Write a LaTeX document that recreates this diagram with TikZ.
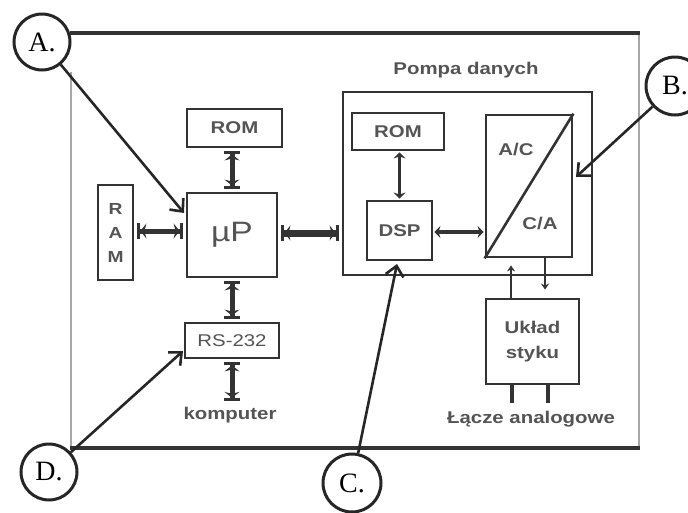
\documentclass[tikz,border=0pt]{standalone}
\usepackage{fontspec}
\setmainfont{Liberation Serif}
\newfontfamily\diagfont[FakeStretch=1.2]{Liberation Sans}
\usetikzlibrary{arrows.meta}
\definecolor{linec}{gray}{0.2}
\definecolor{textc}{gray}{0.33}
\definecolor{framec}{gray}{0.65}
\begin{document}
\begin{tikzpicture}[x=1pt,y=-1pt,
  box/.style={draw=linec, line width=2.8pt, inner sep=0pt, font=\diagfont\bfseries\fontsize{17}{25}\selectfont, text=textc, align=center},
  txt/.style={inner sep=0pt, font=\diagfont\bfseries\fontsize{17}{25}\selectfont, text=textc},
  lab/.style={circle, draw=black!85, fill=white, line width=3pt, inner sep=0pt, font=\fontsize{28}{30}\selectfont},
  ptr/.style={draw=black!85, line width=2.6pt, -{Straight Barb[length=10pt,width=18pt,line width=2.6pt]}},
  bus/.style={draw=linec, line width=5pt, shorten >=3pt, shorten <=3pt,
    {Bar[width=16pt,line width=3pt]Stealth[length=6pt,width=15pt]}-{Stealth[length=6pt,width=15pt]Bar[width=16pt,line width=3pt]}},
  bigbus/.style={bus, line width=7pt},
  thinbus/.style={draw=linec, line width=3.5pt, shorten >=1pt, shorten <=1pt,
    {Stealth[length=6pt,width=12pt]}-{Stealth[length=6pt,width=12pt]}},
  sig/.style={draw=linec, line width=2.4pt}
]
\useasboundingbox (0,0) rectangle (688,512);
% outer frame
\draw[framec, line width=2.2pt] (71,72) -- (71,448);
\draw[framec, line width=2.2pt] (639,33) -- (639,448);
\draw[black!80, line width=3.2pt] (70,33) -- (640,33);
\draw[black!80, line width=3.2pt] (70,448) -- (640,448);

% left part
\node[box, minimum width=95pt, minimum height=38pt] (rom1) at (234.5,128) {ROM};
\node[box, minimum width=90pt, minimum height=84pt, font=\diagfont\fontsize{28}{30}\selectfont] (up) at (232,235) {µP};
\node[box, minimum width=35pt, minimum height=95pt, font=\diagfont\bfseries\fontsize{16}{24}\selectfont] (ram) at (115.5,232.5) {R\\A\\M};
\node[box, minimum width=94pt, minimum height=35pt, font=\diagfont\fontsize{17}{25}\selectfont] (rs) at (232,340.5) {RS-232};
\node[txt] (komp) at (230,415) {komputer};

% pompa danych
\node[box, minimum width=249pt, minimum height=183pt] (pompa) at (467.5,183.5) {};
\node[txt] (pdl) at (466,70) {Pompa danych};
\node[box, minimum width=92pt, minimum height=37pt] (rom2) at (398,131.5) {ROM};
\node[box, minimum width=65pt, minimum height=59pt] (dsp) at (399.5,230.5) {DSP};
\node[box, minimum width=86pt, minimum height=142pt] (ac) at (529,186) {};
\draw[linec, line width=2.6pt] (ac.south west) -- (ac.north east);
\node[txt] (acl) at (516,150) {A/C};
\node[txt] (cal) at (540,224) {C/A};

\node[box, minimum width=93pt, minimum height=85pt] (uk) at (532.5,341.5) {Układ\\styku};
\node[txt] (lacze) at (531,419) {Łącze analogowe};

% buses
\draw[bus] (up.north |- rom1.south) -- (up.north);
\draw[bus] (ram.east |- 0,231) -- (up.west |- 0,231);
\draw[bigbus] (up.east |- 0,233) -- (pompa.west |- 0,233);
\draw[bus] (up.south) -- (rs.north -| up.south);
\draw[bus, shorten >=6pt] (rs.south -| up.south) -- (komp.north -| up.south);
\draw[thinbus] (rom2.south -| dsp.north) -- (dsp.north);
\draw[thinbus] (dsp.east |- 0,232) -- (ac.west |- 0,232);

% A/C <-> interface
\draw[sig, -{Stealth[length=6pt,width=8pt]}, shorten >=7pt] ([xshift=-21.5pt]uk.north) -- ([xshift=-21.5pt]uk.north |- ac.south);
\draw[sig, -{Stealth[length=6pt,width=8pt]}, shorten >=8pt] ([xshift=12.5pt]uk.north |- ac.south) -- ([xshift=12.5pt]uk.north);
\coordinate (l1) at (512,403);
\coordinate (l2) at (548,403);
\draw[linec, line width=3.5pt] (uk.south -| l1) -- (l1);
\draw[linec, line width=3.5pt] (uk.south -| l2) -- (l2);

% labels
\node[lab, minimum size=56pt] (cA) at (42,42) {A.};
\node[lab, minimum size=58pt] (cB) at (675,86) {B.};
\node[lab, minimum size=58pt] (cC) at (352,483) {C.};
\node[lab, minimum size=56pt] (cD) at (49,472) {D.};
\coordinate (tA) at (184,213);
\coordinate (tB) at (576,177);
\coordinate (tC) at (397,264);
\coordinate (tD) at (183,351);
\draw[ptr] (cA) -- (tA);
\draw[ptr] (cB) -- (tB);
\draw[ptr] (cC) -- (tC);
\draw[ptr] (cD) -- (tD);
\end{tikzpicture}
\end{document}
